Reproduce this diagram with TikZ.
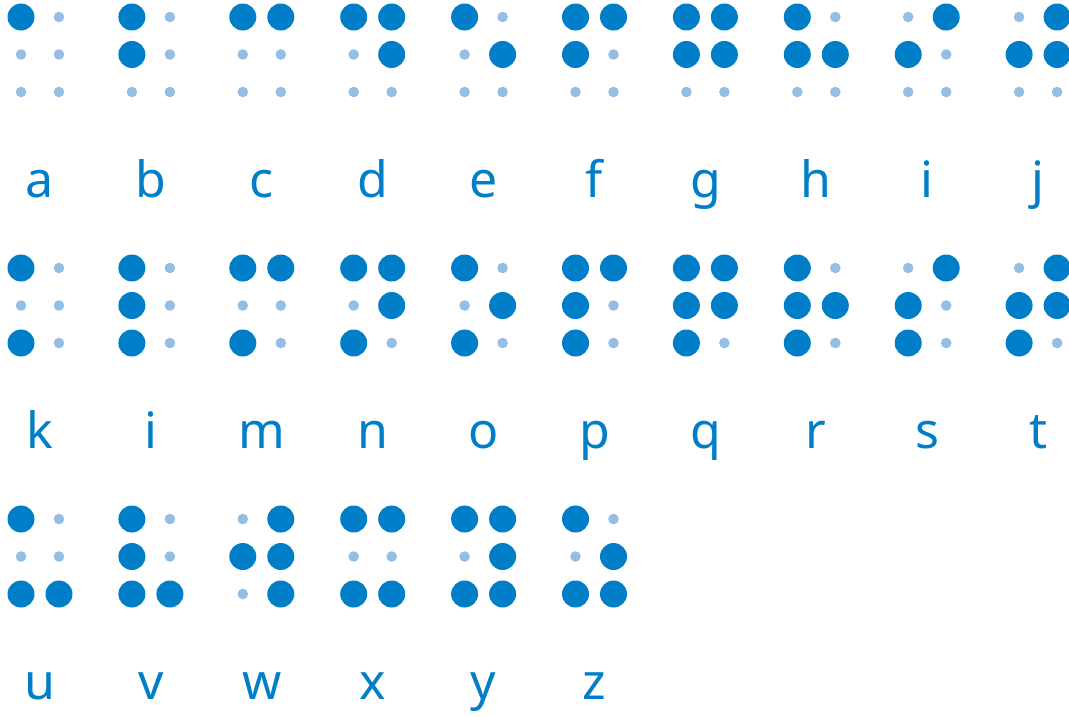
\documentclass[tikz,border=0pt]{standalone}
\usepackage{fontspec}
\setmainfont{Noto Sans}
\definecolor{bblue}{RGB}{0,126,200}
\definecolor{lblue}{RGB}{148,190,228}
\begin{document}
\begin{tikzpicture}[x=1pt,y=-1pt,
  bigdot/.style={fill=bblue},
  smalldot/.style={fill=lblue},
  lbl/.style={text=bblue, font=\fontsize{50}{50}\selectfont, anchor=base, inner sep=0pt}]
\useasboundingbox (0,0) rectangle (1069,716);
\foreach \lab/\da/\db/\dc/\dd/\de/\df [count=\i from 0] in {
  a/1/0/0/0/0/0, b/1/1/0/0/0/0, c/1/0/0/1/0/0, d/1/0/0/1/1/0, e/1/0/0/0/1/0,
  f/1/1/0/1/0/0, g/1/1/0/1/1/0, h/1/1/0/0/1/0, i/0/1/0/1/0/0, j/0/1/0/1/1/0,
  k/1/0/1/0/0/0, i/1/1/1/0/0/0, m/1/0/1/1/0/0, n/1/0/1/1/1/0, o/1/0/1/0/1/0,
  p/1/1/1/1/0/0, q/1/1/1/1/1/0, r/1/1/1/0/1/0, s/0/1/1/1/0/0, t/0/1/1/1/1/0,
  u/1/0/1/0/0/1, v/1/1/1/0/0/1, w/0/1/0/1/1/1, x/1/0/1/1/0/1, y/1/0/1/1/1/1,
  z/1/0/1/0/1/1} {
  \pgfmathtruncatemacro\col{mod(\i,10)}
  \pgfmathtruncatemacro\row{div(\i,10)}
  \pgfmathsetmacro\cx{21+110.9*\col}
  \pgfmathsetmacro\cy{17+251*\row}
  \foreach \v/\dx/\dy in {\da/0/0, \db/0/37.5, \dc/0/75, \dd/38/0, \de/38/37.5, \df/38/75} {
    \ifnum\v=1
      \fill[bigdot] (\cx+\dx,\cy+\dy) circle (13.5);
    \else
      \fill[smalldot] (\cx+\dx,\cy+\dy) circle (5.3);
    \fi
  }
  \node[lbl] (L\i) at (\cx+19,\cy+180) {\lab};
}
\end{tikzpicture}
\end{document}
